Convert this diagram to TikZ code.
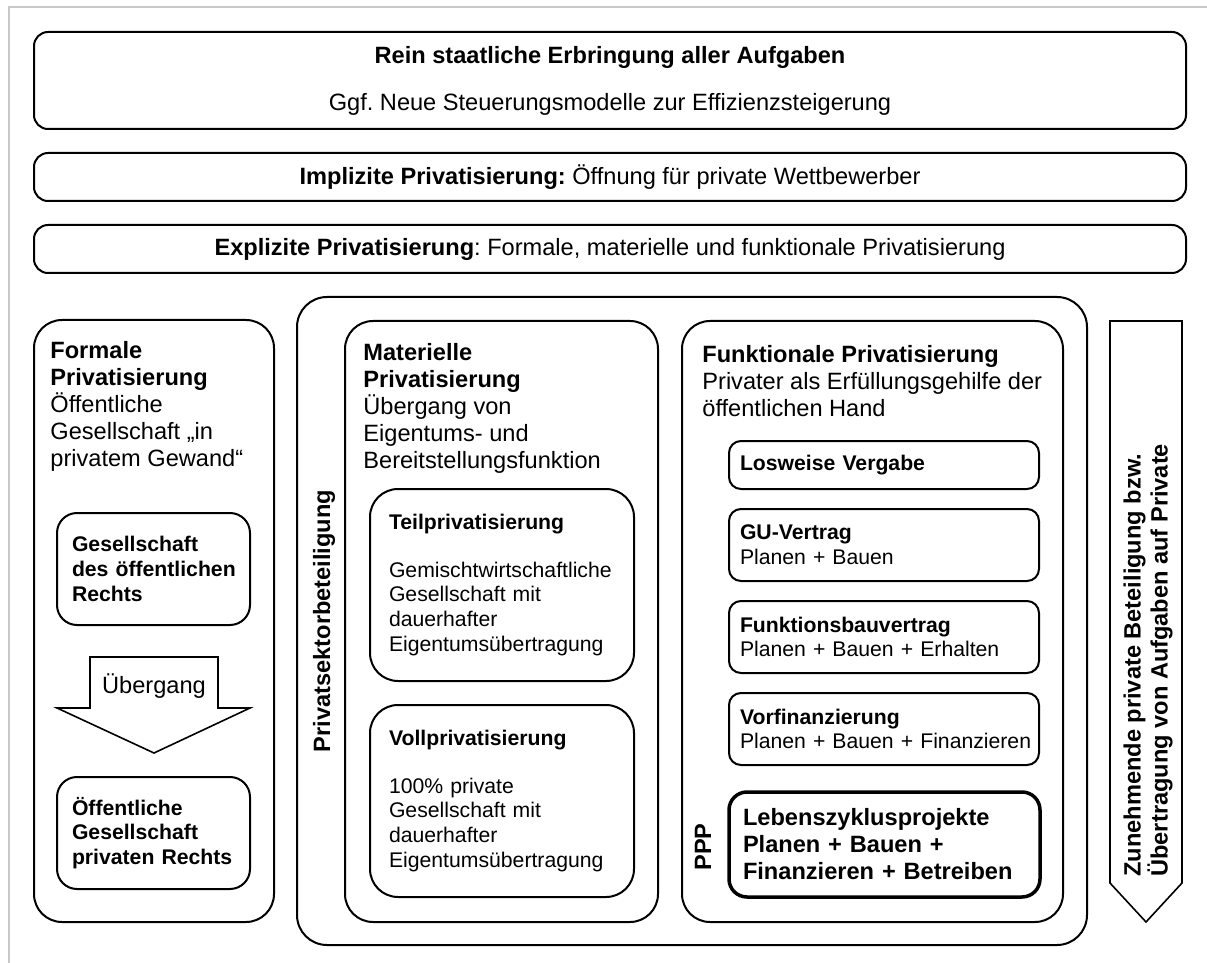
\documentclass[tikz,border=0pt]{standalone}
\usepackage{fontspec}
\setmainfont{Liberation Sans}
\definecolor{framegray}{RGB}{200,200,200}
\newcommand{\bigtxt}{\fontsize{11.8}{13.5}\selectfont}
\newcommand{\smalltxt}{\fontsize{10.6}{12.3}\selectfont}
\frenchspacing
\hyphenpenalty=10000
\exhyphenpenalty=10000

\begin{document}
\begin{tikzpicture}[x=0.5pt,y=-0.5pt]

\tikzstyle{topbox} = [draw, line width=1pt, rounded corners=7pt, minimum width=576pt,
font=\bigtxt, anchor=center]
\tikzstyle{bigbox} = [draw, line width=1pt, rounded corners=14pt, anchor=center]
\tikzstyle{headtext} = [anchor=north west, inner sep=0, align=left, font=\bigtxt]
\tikzstyle{lbox} = [draw, line width=1pt, rounded corners=10pt, font=\smalltxt\bfseries,
align=left, inner xsep=7.5pt, text width=81.5pt, minimum width=96.5pt, minimum height=56pt]
\tikzstyle{mbox} = [draw, line width=1pt, rounded corners=14pt, font=\smalltxt,
align=left, inner xsep=9.5pt, text width=113pt, minimum width=132pt, minimum height=96pt]
\tikzstyle{fbox} = [draw, line width=1pt, rounded corners=6pt, font=\smalltxt,
align=left, inner xsep=5.5pt, text width=144pt, minimum width=155pt]
\tikzstyle{pppbox} = [draw, line width=1.75pt, rounded corners=9pt, font=\bigtxt\bfseries,
align=left, inner xsep=7pt, text width=141.5pt, minimum width=155.5pt, minimum height=52.5pt]
\tikzstyle{sidetext} = [rotate=90, font=\bigtxt\bfseries]

\useasboundingbox (0,0) rectangle (1207,963);
\draw[framegray, line width=1.2pt] (9,963) -- (9,7) -- (1207,7);

% top rows
\node [topbox, minimum height=48.5pt, align=center] (staat) at (610,80.5)
{\textbf{Rein staatliche Erbringung aller Aufgaben}\\[10pt]Ggf. Neue Steuerungsmodelle zur Effizienzsteigerung};
\node [topbox, minimum height=24pt] (implizit) at (610,177)
{\textbf{Implizite Privatisierung:} Öffnung für private Wettbewerber};
\node [topbox, minimum height=24pt] (explizit) at (610,249)
{\textbf{Explizite Privatisierung}: Formale, materielle und funktionale Privatisierung};

% formale privatisierung
\node [bigbox, minimum width=120pt, minimum height=301pt] (formal) at (154,621) {};
\node [headtext] (formaltxt) at (50,341)
{\textbf{Formale}\\\textbf{Privatisierung}\\Öffentliche\\Gesellschaft „in\\privatem Gewand“};
\node [lbox] (oeffrecht) at (153.5,569) {Gesellschaft\\des~öffentlichen\\Rechts};
\draw[line width=0.8pt] (90,657) -- (218,657) -- (218,708) -- (250,708) -- (154,753)
-- (57,708) -- (90,708) -- cycle;
\node [font=\bigtxt] (uebergang) at (154,686) {Übergang};
\node [lbox] (privrecht) at (153.5,833) {Öffentliche\\Gesellschaft\\privaten~Rechts};

% privatsektorbeteiligung
\node [bigbox, rounded corners=15pt, minimum width=395pt, minimum height=324pt] (privat) at (692,621) {};
\node [sidetext] (privattxt) at (324,621) {Privatsektorbeteiligung};

\node [bigbox, minimum width=156.5pt, minimum height=300.5pt] (materiell) at (501.5,621.5) {};
\node [headtext] (materielltxt) at (363,343)
{\textbf{Materielle}\\\textbf{Privatisierung}\\Übergang von\\Eigentums- und\\Bereitstellungsfunktion};
\node [mbox] (teil) at (502,585)
{\textbf{Teilprivatisierung}\\[11.5pt]Gemischtwirtschaftliche\\Gesellschaft mit\\dauerhafter\\Eigentumsübertragung};
\node [mbox] (voll) at (502,801)
{\textbf{Vollprivatisierung}\\[11.5pt]100\% private\\Gesellschaft mit\\dauerhafter\\Eigentumsübertragung};

\node [bigbox, minimum width=190.5pt, minimum height=300.5pt] (funktional) at (872.5,621.5) {};
\node [headtext] (funktionaltxt) at (702,345)
{\textbf{Funktionale Privatisierung}\\Privater als Erfüllungsgehilfe der\\öffentlichen Hand};
\node [fbox, minimum height=24pt] (losweise) at (884,465) {\textbf{Losweise Vergabe}};
\node [fbox, minimum height=36pt] (guvertrag) at (884,545) {\textbf{GU-Vertrag}\\Planen + Bauen};
\node [fbox, minimum height=36pt] (funktionsbau) at (884,637) {\textbf{Funktionsbauvertrag}\\Planen~+ Bauen~+ Erhalten};
\node [fbox, minimum height=36pt] (vorfin) at (884,729) {\textbf{Vorfinanzierung}\\Planen~+~Bauen~+~Finanzieren};
\node [pppbox] (lebens) at (884.5,844.5) {Lebenszyklusprojekte\\Planen + Bauen +\\Finanzieren~+~Betreiben};
\node [sidetext] (ppp) at (703,847) {PPP};

% rechter pfeil
\draw[line width=0.8pt] (1110,321) -- (1182,321) -- (1182,883) -- (1146,922) -- (1110,883) -- cycle;
\node [sidetext, anchor=west, align=left, inner sep=0] (zunahme) at (1148,877)
{Zunehmende private Beteiligung bzw.\\Übertragung von Aufgaben auf Private};

\end{tikzpicture}
\end{document}
